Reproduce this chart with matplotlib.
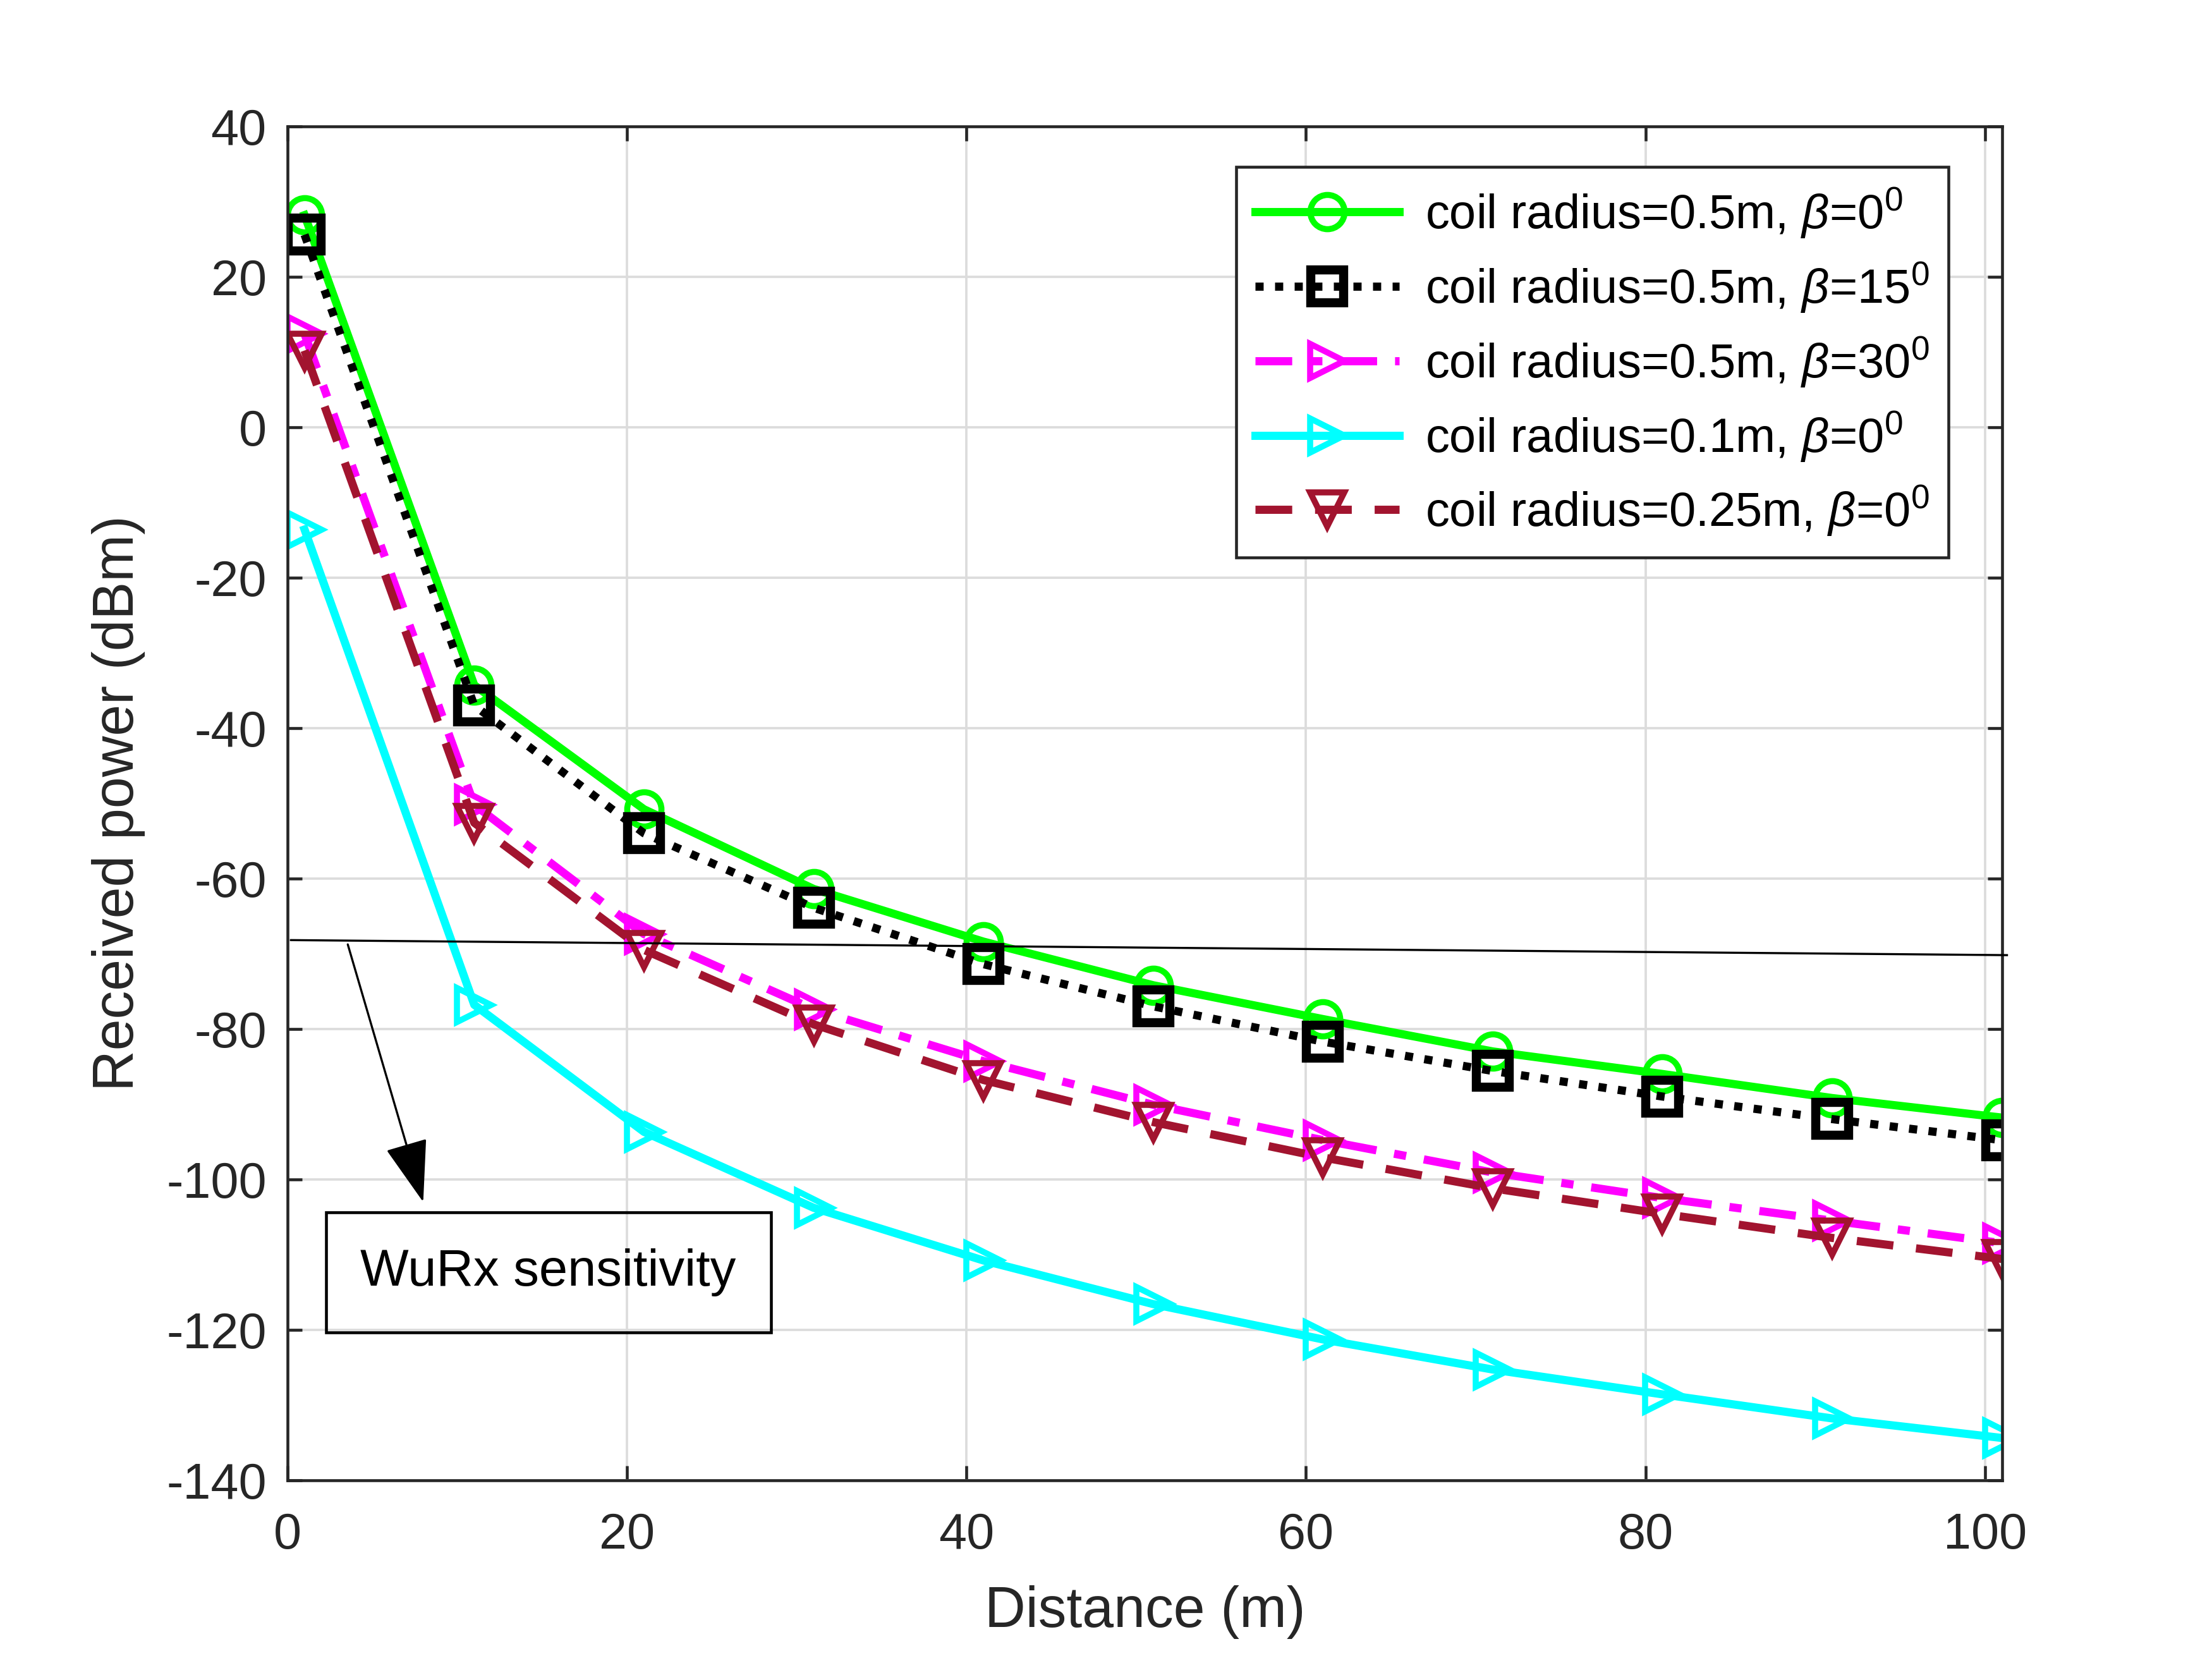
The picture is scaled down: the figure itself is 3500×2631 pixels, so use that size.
import matplotlib
matplotlib.use("Agg")
import matplotlib.pyplot as plt
from matplotlib.patches import Rectangle, FancyArrowPatch

plt.rcParams['font.family'] = ['Liberation Sans', 'DejaVu Sans']
plt.rcParams['mathtext.fontset'] = 'custom'
plt.rcParams['mathtext.rm'] = 'Liberation Sans'
plt.rcParams['mathtext.it'] = 'Liberation Sans:italic'
plt.rcParams['axes.unicode_minus'] = False

distance = [1, 11, 21, 31, 41, 51, 61, 71, 81, 91, 101]
p_r05_b0 = [28.2, -34.3, -50.8, -61.4, -68.4, -74.2, -78.7, -83.0, -86.0, -89.2, -91.8]
p_r05_b15 = [25.6, -37.0, -54.0, -63.9, -71.4, -77.0, -81.7, -85.6, -89.0, -92.0, -94.8]
p_r05_b30 = [12.4, -50.2, -67.4, -77.4, -84.3, -90.1, -94.8, -99.1, -102.5, -105.5, -108.5]
p_r01_b0 = [-13.6, -76.8, -93.7, -103.8, -110.8, -116.6, -121.3, -125.3, -128.6, -131.8, -134.4]
p_r025_b0 = [10.2, -52.6, -69.5, -79.4, -86.8, -92.4, -97.1, -101.2, -104.6, -107.8, -110.6]

labels = [r'coil radius=0.5m, $\it{\beta}$=0$^0$',
          r'coil radius=0.5m, $\it{\beta}$=15$^0$',
          r'coil radius=0.5m, $\it{\beta}$=30$^0$',
          r'coil radius=0.1m, $\it{\beta}$=0$^0$',
          r'coil radius=0.25m, $\it{\beta}$=0$^0$']

sens_x = [0.2, 101.3]
sens_y = [-68.2, -70.2]
arrow_start = (3.46, -68.1)
arrow_end = (8.08, -103.7)
note_text = 'WuRx sensitivity'

xticks = [0, 20, 40, 60, 80, 100]
yticks = [-140, -120, -100, -80, -60, -40, -20, 0, 20, 40]

fig = plt.figure(figsize=(3500/300, 2631/300), dpi=300)
ax = fig.add_axes([0.130, 0.110, 0.775, 0.814])

lw = 3.1
ms = 13
mew = 2.3
ax.plot(distance, p_r05_b0, color='#00FF00', ls='-', lw=lw, marker='o', ms=ms,
        mfc='none', mew=mew, label=labels[0])
ax.plot(distance, p_r05_b15, color='black', ls=(0, (1, 1.4)), lw=lw, marker='s', ms=ms * 0.95,
        mfc='none', mew=mew * 1.5, label=labels[1])
ax.plot(distance, p_r05_b30, color='#FF00FF', ls=(0, (4.5, 2.2, 1.5, 2.2)), lw=lw, marker='>', ms=ms,
        mfc='none', mew=mew, label=labels[2])
ax.plot(distance, p_r01_b0, color='#00FFFF', ls='-', lw=lw, marker='>', ms=ms,
        mfc='none', mew=mew, label=labels[3])
ax.plot(distance, p_r025_b0, color='#A2142F', ls=(0, (4.5, 2.8)), lw=lw, marker='v', ms=ms,
        mfc='none', mew=mew, label=labels[4])

ax.set_xlim(0, 101)
ax.set_ylim(-140, 40)
ax.set_xticks(xticks)
ax.set_yticks(yticks)
ax.grid(True, color='#DCDCDC', lw=0.9)
ax.set_axisbelow(True)
for s in ax.spines.values():
    s.set_color('#262626')
    s.set_linewidth(1.1)
ax.tick_params(direction='in', length=5.5, width=1.1, colors='#262626',
               labelsize=19, top=True, right=True)
ax.tick_params(axis='x', pad=12)
ax.tick_params(axis='y', pad=8)
ax.set_xlabel('Distance (m)', fontsize=21.5, color='#262626', labelpad=10)
ax.set_ylabel('Received power (dBm)', fontsize=21.5, color='#262626', labelpad=8)

# sensitivity line
ax.plot(sens_x, sens_y, color='black', lw=0.8, clip_on=False, zorder=6)
arr = FancyArrowPatch(arrow_start, arrow_end,
                      arrowstyle='-|>,head_length=1.05,head_width=0.36',
                      mutation_scale=20, color='black', lw=0.8, zorder=6)
ax.add_patch(arr)

# text box
ax.add_patch(Rectangle((0.0225, 0.109), 0.2595, 0.089, transform=ax.transAxes,
                       fill=False, ec='black', lw=1.1, zorder=6))
ax.text(0.152, 0.1535, note_text, transform=ax.transAxes, ha='center', va='center',
        fontsize=19.5, color='black', zorder=7)

leg = ax.legend(loc='upper right', bbox_to_anchor=(0.969, 0.970), borderaxespad=0,
                fontsize=18.2, numpoints=1, handlelength=3.0, handletextpad=0.55,
                labelspacing=0.42, fancybox=False, framealpha=1, edgecolor='#262626',
                borderpad=0.4)
leg.get_frame().set_linewidth(1.1)

fig.savefig('out.png', dpi=300, facecolor='white')
